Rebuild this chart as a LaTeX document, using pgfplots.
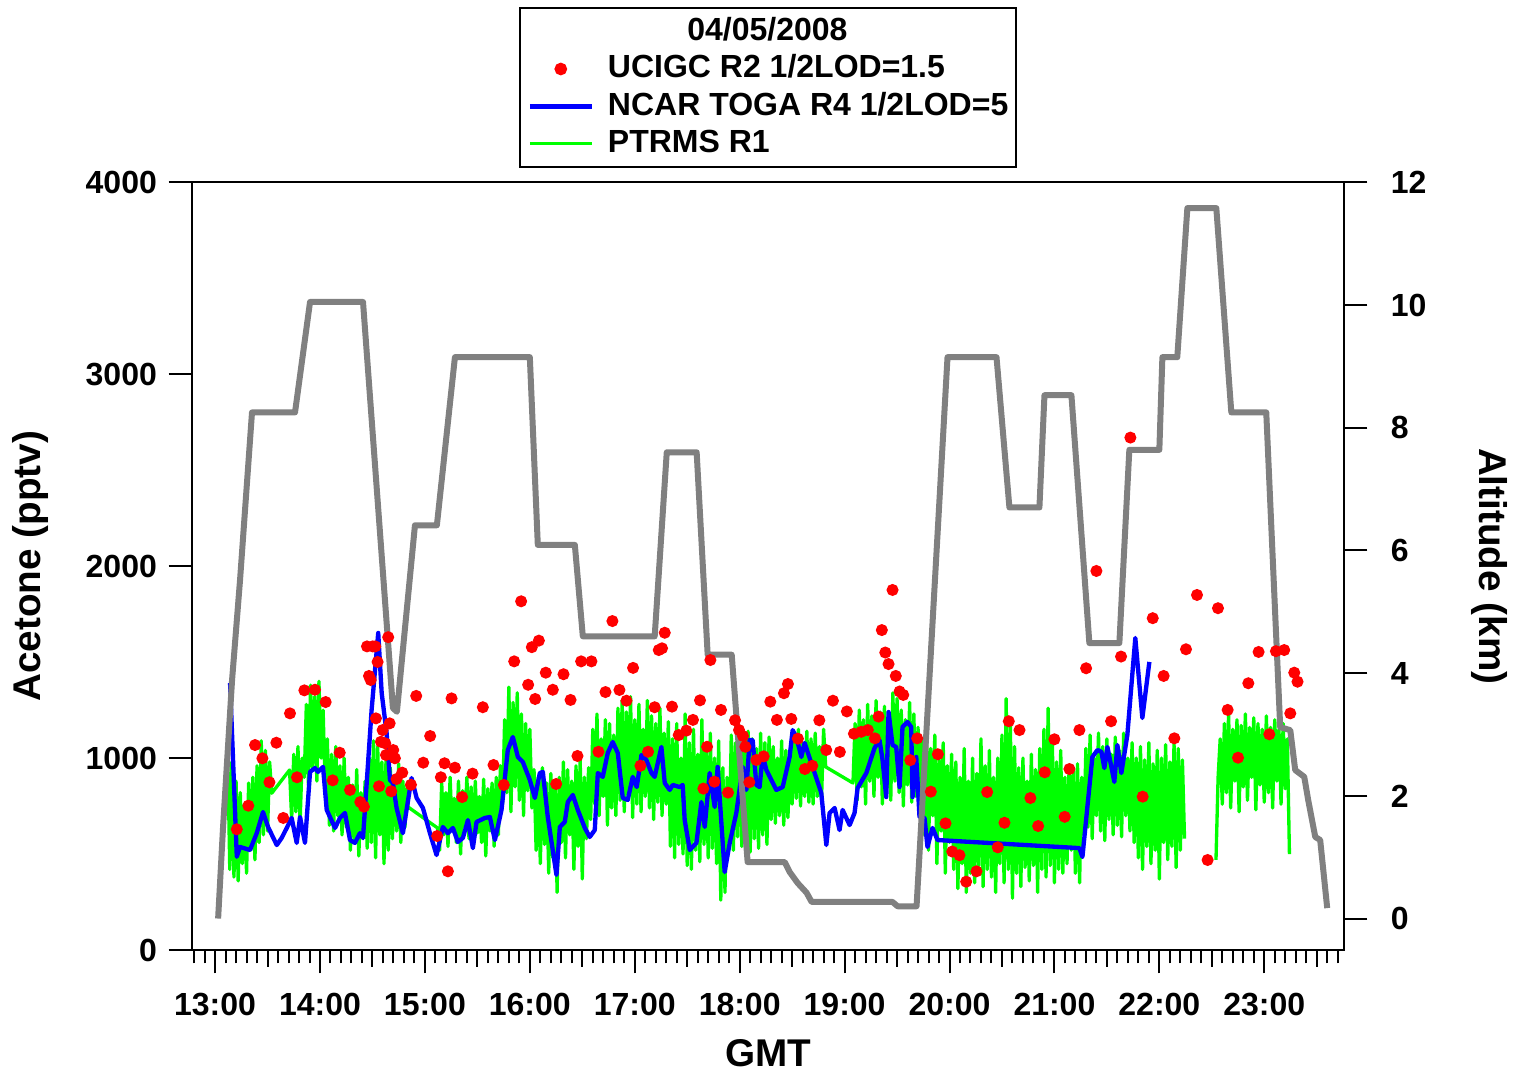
\documentclass[border=0pt]{standalone}
\usepackage{pgfplots}
\pgfplotsset{compat=1.18}
\usepackage{fontspec}
\setmainfont{Liberation Sans}
\definecolor{altgray}{RGB}{128,128,128}
\definecolor{ptrgreen}{RGB}{0,255,0}
\definecolor{togablue}{RGB}{0,0,255}
\definecolor{gcred}{RGB}{255,0,0}
\newcommand{\tf}{\fontsize{9.6}{11}\selectfont\bfseries}
\newcommand{\lf}{\fontsize{11.6}{13}\selectfont\bfseries}
\begin{document}
\begin{tikzpicture}
\useasboundingbox (-57.6pt,-37.2pt) rectangle (398.1pt,285pt);
\pgfplotsset{
  common/.style={width=345.6pt, height=230.3pt, scale only axis,
    xmin=12.78, xmax=23.76, at={(0,0)}, anchor=south west,
    /pgf/number format/assume math mode=true,
    tick label style={font=\tf}, label style={font=\lf},
    tick align=outside, major tick length=7pt, minor tick length=4pt,
    every tick/.style={black, line width=0.6pt},
    axis line style={line width=0.6pt, black}},
}
% ---------- left axis: PTRMS and TOGA ----------
\begin{axis}[common, ymin=0, ymax=4000,
  xtick={13,14,15,16,17,18,19,20,21,22,23},
  xticklabels={13:00,14:00,15:00,16:00,17:00,18:00,19:00,20:00,21:00,22:00,23:00},
  xticklabel style={yshift=-2.4pt},
  minor xtick={12.8,12.9,...,23.75},
  extra x ticks={13.5,14.5,15.5,16.5,17.5,18.5,19.5,20.5,21.5,22.5,23.5},
  extra x tick labels={{},{},{},{},{},{},{},{},{},{},{}},
  extra x tick style={major tick length=5pt},
  ytick={0,1000,2000,3000,4000},
  yticklabels={0,1000,2000,3000,4000},
  xtick pos=bottom, ytick pos=left,
  xlabel={GMT}, ylabel={Acetone (pptv)},
  xlabel style={at={(axis description cs:0.5,-0.134)}, anchor=center},
  ylabel style={at={(axis description cs:-0.1398,0.5)}, anchor=center},
]
\addplot[ptrgreen, line width=1pt, line join=round] coordinates {
(13.10,700)(13.12,1050)(13.14,420)(13.16,980)(13.18,380)(13.20,880)
(13.22,360)(13.24,820)(13.26,450)(13.28,760)(13.30,400)(13.32,870)(13.34,520)(13.36,900)(13.38,470)(13.40,960)
(13.42,560)(13.44,1090)(13.46,600)(13.48,1040)(13.50,620)(13.52,980)(13.54,817)
(13.71,938)
(13.73,680)(13.75,1020)(13.77,720)(13.79,1060)(13.81,660)(13.83,1000)
(13.85,900)(13.87,1280)(13.89,860)(13.91,1380)(13.93,950)(13.95,1320)(13.97,880)(13.99,1400)(14.01,1000)(14.03,1250)(14.05,820)
(14.07,1100)(14.09,650)(14.11,1020)(14.13,620)(14.15,1060)(14.17,700)(14.19,960)(14.21,600)(14.23,1000)(14.25,640)
(14.27,900)(14.29,520)(14.31,860)(14.33,560)(14.35,940)(14.37,490)(14.39,820)(14.41,580)(14.43,880)(14.45,530)
(14.47,1000)(14.49,560)(14.51,1090)(14.53,480)(14.55,1060)(14.57,600)(14.59,980)(14.61,450)(14.63,1020)(14.65,520)
(14.67,950)(14.69,580)(14.71,900)(14.73,620)(14.75,970)(14.77,560)(14.79,880)(14.81,640)(14.83,860)(14.84,745)
(15.12,636)
(15.14,520)(15.16,870)(15.18,600)(15.20,820)(15.22,540)(15.24,900)(15.26,620)(15.28,790)(15.30,560)(15.32,880)(15.34,500)(15.36,830)(15.38,640)(15.40,900)(15.42,580)(15.44,850)(15.46,530)(15.48,880)(15.50,610)(15.52,800)(15.54,560)(15.56,890)(15.58,490)(15.60,840)(15.62,620)(15.64,870)(15.66,540)(15.68,900)(15.70,600)(15.72,960)
(15.74,760)(15.76,1200)(15.78,820)(15.80,1370)(15.82,720)(15.84,1290)(15.86,850)(15.88,1340)(15.90,780)(15.92,1230)(15.94,700)(15.96,1180)(15.98,830)(16.00,1150)(16.02,740)
(16.04,940)(16.06,520)(16.08,900)(16.10,450)(16.12,950)(16.14,550)(16.16,870)(16.18,400)(16.20,920)(16.22,480)(16.24,860)(16.26,300)
(16.28,900)(16.30,560)(16.32,980)(16.34,480)(16.36,940)(16.38,600)(16.40,880)(16.42,420)(16.44,960)(16.46,540)(16.48,990)(16.50,370)(16.52,900)(16.54,580)(16.56,950)
(16.58,680)(16.60,1150)(16.62,760)(16.64,1230)(16.66,700)(16.68,1100)(16.70,800)(16.72,1200)(16.74,650)(16.76,1180)(16.78,740)(16.80,1120)(16.82,700)(16.84,1260)(16.86,780)(16.88,1300)(16.90,720)(16.92,1240)(16.94,800)(16.96,1320)(16.98,690)(17.00,1200)(17.02,760)(17.04,1280)(17.06,720)(17.08,1150)(17.10,800)(17.12,1300)(17.14,740)(17.16,1220)(17.18,680)(17.20,1180)(17.22,770)(17.24,1260)(17.26,700)(17.28,1130)(17.30,760)(17.32,1190)
(17.34,540)(17.36,1100)(17.38,480)(17.40,1180)(17.42,550)(17.44,1000)(17.46,500)(17.48,1230)(17.50,440)(17.52,1080)(17.54,420)(17.56,1150)(17.58,520)(17.60,1020)(17.62,460)(17.64,1200)(17.66,550)(17.68,1060)(17.70,480)(17.72,1130)(17.74,530)(17.76,1000)(17.78,450)(17.80,1090)
(17.82,260)(17.84,950)(17.86,300)(17.88,900)
(17.90,560)(17.92,1120)(17.94,520)(17.96,1080)(17.98,590)(18.00,1150)(18.02,540)(18.04,1060)(18.06,600)(18.08,1140)(18.10,510)(18.12,1100)(18.14,580)(18.16,1050)(18.18,530)(18.20,1130)(18.22,600)(18.24,1080)(18.26,550)(18.28,1110)
(18.30,680)(18.32,1060)(18.34,660)(18.36,1000)(18.38,700)(18.40,1090)(18.42,650)(18.44,1040)(18.46,690)(18.48,1010)
(18.50,760)(18.52,1120)(18.54,790)(18.56,1150)(18.58,750)(18.60,1080)(18.62,800)(18.64,1140)(18.66,770)(18.68,1100)(18.70,760)(18.72,1130)(18.74,800)(18.76,1060)(18.78,780)(18.80,1150)(18.82,954)
(19.08,870)
(19.10,1180)(19.12,780)(19.14,1250)(19.16,850)(19.18,1200)(19.20,760)(19.22,1280)(19.24,880)(19.26,1220)(19.28,800)(19.30,1300)(19.32,900)(19.34,1240)(19.36,760)(19.38,1270)(19.40,840)(19.42,1180)(19.44,780)(19.46,1340)(19.48,880)(19.50,1310)(19.52,820)(19.54,1250)(19.56,750)(19.58,1200)(19.60,860)(19.62,1290)(19.64,770)(19.66,1230)(19.68,800)(19.70,1160)
(19.72,760)(19.74,1100)(19.76,600)(19.78,1160)(19.80,520)(19.82,1050)(19.84,700)(19.86,1120)(19.88,450)(19.90,1000)(19.92,620)(19.94,1080)(19.96,400)(19.98,960)(20.00,560)(20.02,1020)
(20.04,420)(20.06,980)(20.08,320)(20.10,900)(20.12,450)(20.14,1050)(20.16,300)(20.18,880)(20.20,400)(20.22,1000)(20.24,350)(20.26,920)(20.28,440)(20.30,1100)(20.32,330)(20.34,960)(20.36,420)(20.38,1040)(20.40,380)(20.42,900)(20.44,300)(20.46,1000)(20.48,450)(20.50,1120)(20.52,350)(20.54,1310)(20.56,420)(20.58,1180)(20.60,270)(20.62,1060)(20.64,400)(20.66,950)(20.68,330)(20.70,1000)(20.72,430)(20.74,880)(20.76,360)(20.78,1020)(20.80,440)(20.82,940)(20.84,300)(20.86,1050)(20.88,420)(20.90,1150)(20.92,380)(20.94,1260)(20.96,440)(20.98,1100)(21.00,350)(21.02,980)(21.04,420)(21.06,1040)(21.08,400)(21.10,900)(21.12,450)(21.14,960)
(21.16,520)(21.18,940)(21.20,400)(21.22,970)(21.24,350)(21.26,900)
(21.28,600)(21.30,1050)(21.32,640)(21.34,1120)(21.36,580)(21.38,1000)(21.40,700)(21.42,1130)(21.44,620)(21.46,1060)(21.48,570)(21.50,1100)(21.52,680)(21.54,1020)(21.56,600)(21.58,1110)(21.60,650)(21.62,1040)(21.64,590)(21.66,1130)(21.68,700)(21.70,1000)(21.72,620)(21.74,1080)
(21.76,560)(21.78,1000)(21.80,480)(21.82,1060)(21.84,420)(21.86,990)(21.88,540)(21.90,1080)(21.92,450)(21.94,970)(21.96,520)(21.98,1040)(22.00,370)(22.02,1000)(22.04,560)(22.06,1070)(22.08,470)(22.10,980)(22.12,540)(22.14,1080)(22.16,430)(22.18,1050)(22.20,520)(22.22,990)(22.24,580)
};
\addplot[ptrgreen, line width=1pt, line join=round, forget plot] coordinates {
(22.54,470)(22.56,900)(22.58,1100)(22.60,760)(22.62,1180)(22.64,820)(22.66,1230)(22.68,740)(22.70,1150)(22.72,880)(22.74,1200)(22.76,720)(22.78,1170)(22.80,850)(22.82,1230)(22.84,780)(22.86,1160)(22.88,900)(22.90,1210)(22.92,730)(22.94,1180)(22.96,860)(22.98,1150)(23.00,770)(23.02,1220)(23.04,820)(23.06,1160)(23.08,740)(23.10,1200)(23.12,880)(23.14,1150)(23.16,760)(23.18,1180)(23.20,840)(23.22,1100)(23.24,500)
};
\addplot[togablue, line width=1.3pt, line join=round] coordinates {
(13.143,1391)(13.207,486)(13.238,537)(13.333,521)(13.397,609)(13.457,719)(13.505,641)(13.588,547)(13.635,584)(13.683,636)(13.730,688)(13.778,558)(13.810,693)(13.857,558)(13.905,928)(13.952,948)(13.981,928)(14.029,954)(14.064,730)(14.143,636)(14.190,688)(14.238,714)(14.286,573)(14.333,558)(14.381,609)(14.410,584)(14.492,1251)(14.555,1652)(14.588,1339)(14.635,1131)(14.667,886)(14.695,870)(14.730,740)(14.790,609)(14.873,896)(14.921,792)(14.981,740)(15.048,609)(15.111,495)(15.171,641)(15.219,609)(15.267,636)(15.314,563)(15.362,584)(15.410,677)(15.457,531)(15.492,667)(15.571,688)(15.619,693)(15.667,573)(15.730,730)(15.790,1042)(15.838,1110)(15.886,1006)(15.933,980)(16.000,886)(16.048,792)(16.095,922)(16.124,928)(16.171,693)(16.254,391)(16.286,641)(16.333,667)(16.362,771)(16.410,808)(16.457,730)(16.524,636)(16.571,589)(16.619,625)(16.648,922)(16.695,902)(16.743,1027)(16.790,1084)(16.838,1027)(16.886,792)(16.933,782)(16.981,902)(17.019,849)(17.064,1016)(17.111,990)(17.159,922)(17.190,902)(17.254,1058)(17.286,870)(17.333,834)(17.362,860)(17.429,849)(17.457,860)(17.476,677)(17.524,521)(17.588,558)(17.635,771)(17.667,641)(17.714,922)(17.762,745)(17.790,954)(17.857,406)(17.905,558)(17.968,714)(18.029,954)(18.064,834)(18.095,1094)(18.124,1094)(18.159,860)(18.190,849)(18.219,1016)(18.254,938)(18.302,886)(18.349,834)(18.410,849)(18.476,1006)(18.505,1146)(18.540,1110)(18.588,1006)(18.619,1079)(18.695,954)(18.778,818)(18.826,547)(18.857,714)(18.905,740)(18.952,625)(18.981,730)(19.048,651)(19.095,714)(19.124,844)(19.207,922)(19.286,1053)(19.333,1094)(19.362,990)(19.397,797)(19.419,1240)(19.457,1068)(19.492,1058)(19.524,849)(19.552,1162)(19.600,1188)(19.635,1162)(19.648,797)(19.683,1006)(19.714,693)(19.762,688)(19.790,537)(19.838,636)(19.886,573)(21.238,531)(21.267,485)(21.314,745)(21.362,1006)(21.410,1042)(21.448,1032)(21.476,948)(21.505,1058)(21.571,876)(21.600,1068)(21.638,922)(21.695,1120)(21.771,1626)(21.838,1209)(21.905,1501)
};
\end{axis}
% ---------- right axis: altitude ----------
\begin{axis}[common, ymin=-0.513, ymax=12,
  axis x line=none, axis y line*=right,
  ytick={0,2,4,6,8,10,12}, yticklabels={0,2,4,6,8,10,12},
  yticklabel style={xshift=3.5pt},
  ylabel={Altitude (km)},
  ylabel style={at={(axis description cs:1.1267,0.5)}, anchor=center, rotate=180},
]
\addplot[altgray, line width=1.8pt, line join=round] coordinates {
(13.029,0)(13.076,1.49)(13.162,3.89)(13.238,5.52)(13.352,8.25)(13.762,8.25)(13.905,10.05)(14.41,10.05)(14.695,3.43)(14.733,3.37)(14.905,6.41)(15.114,6.41)(15.286,9.15)(16.0,9.15)(16.076,6.09)(16.429,6.09)(16.505,4.6)(17.19,4.6)(17.305,7.6)(17.59,7.6)(17.695,4.3)(17.924,4.3)(18.076,0.92)(18.43,0.92)(18.476,0.76)(18.552,0.58)(18.638,0.42)(18.686,0.27)(19.457,0.27)(19.505,0.2)(19.686,0.2)(19.981,9.15)(20.448,9.15)(20.571,6.7)(20.857,6.7)(20.905,8.53)(21.162,8.53)(21.333,4.49)(21.619,4.49)(21.714,7.64)(22.0,7.64)(22.029,9.15)(22.171,9.15)(22.267,11.58)(22.543,11.58)(22.686,8.25)(23.019,8.25)(23.152,3.12)(23.248,3.07)(23.295,2.42)(23.381,2.31)(23.419,1.93)(23.486,1.33)(23.533,1.28)(23.6,0.17)
};
\end{axis}
% ---------- top layer: UCIGC dots and legend ----------
\begin{axis}[common, ymin=0, ymax=4000, hide axis,
  legend image code/.code={\draw[mark repeat=2,mark phase=2,#1] plot coordinates {(0pt,0pt) (9.3pt,0pt) (18.6pt,0pt)};},
  legend style={at={(axis description cs:0.5,1)}, anchor=south, yshift=4.2pt,
    draw=black, line width=0.6pt, font=\tf, row sep=0pt, column sep=4.2pt,
    inner xsep=2.4pt, inner ysep=1.5pt,
    nodes={inner xsep=0pt, inner ysep=1.2pt, text height=7pt, text depth=1.8pt}},
  legend cell align=left,
]
\addlegendimage{empty legend}
\addlegendentry{\hspace*{23.8pt}04/05/2008}
\addplot[only marks, mark=*, mark size=1.6pt, gcred, mark options={draw=gcred, fill=gcred}] coordinates {
(13.207,629)(13.317,752)(13.381,1068)(13.451,999)(13.518,874)(13.584,1080)(13.650,688)(13.714,1233)(13.781,900)(13.851,1353)(13.952,1356)(14.054,1292)(14.121,884)(14.188,1028)(14.286,834)(14.384,771)(14.419,747)(14.448,1582)(14.502,1582)(14.527,1582)(14.467,1428)(14.483,1407)(14.549,1501)(14.533,1207)(14.562,853)(14.597,1146)(14.581,1085)(14.622,1077)(14.650,1630)(14.664,1181)(14.629,1016)(14.698,1042)(14.714,999)(14.679,827)(14.730,891)(14.784,924)(14.867,861)(14.917,1324)(14.984,976)(15.050,1115)(15.117,594)(15.152,900)(15.187,973)(15.219,410)(15.254,1311)(15.286,950)(15.355,797)(15.454,919)(15.552,1265)(15.654,964)(15.752,860)(15.851,1504)(15.917,1817)(15.984,1382)(16.019,1578)(16.086,1612)(16.051,1308)(16.152,1445)(16.219,1356)(16.251,865)(16.321,1437)(16.388,1303)(16.454,1011)(16.489,1504)(16.587,1504)(16.654,1033)(16.721,1344)(16.787,1714)(16.854,1355)(16.921,1299)(16.984,1470)(17.054,960)(17.127,1033)(17.190,1265)(17.229,1563)(17.260,1572)(17.286,1653)(17.355,1268)(17.419,1120)(17.492,1143)(17.555,1199)(17.622,1301)(17.689,1059)(17.654,841)(17.759,877)(17.721,1511)(17.822,1251)(17.889,820)(17.956,1197)(17.994,1146)(18.032,1115)(18.054,1059)(18.092,874)(18.159,990)(18.229,1009)(18.292,1294)(18.355,1199)(18.422,1338)(18.460,1386)(18.492,1204)(18.555,1101)(18.622,943)(18.692,960)(18.759,1197)(18.825,1042)(18.889,1299)(18.955,1032)(19.022,1243)(19.089,1127)(19.159,1137)(19.222,1146)(19.289,1103)(19.324,1216)(19.355,1667)(19.457,1876)(19.388,1550)(19.419,1490)(19.488,1428)(19.524,1347)(19.559,1329)(19.626,989)(19.692,1103)(19.822,825)(19.889,1020)(19.962,660)(20.026,513)(20.095,494)(20.159,356)(20.257,410)(20.359,823)(20.460,535)(20.524,663)(20.565,1192)(20.667,1146)(20.771,792)(20.845,646)(20.908,926)(21.000,1098)(21.098,694)(21.143,943)(21.238,1146)(21.302,1468)(21.400,1975)(21.540,1192)(21.635,1529)(21.724,2670)(21.841,799)(21.937,1729)(22.041,1428)(22.143,1103)(22.254,1567)(22.359,1850)(22.460,469)(22.559,1781)(22.651,1251)(22.750,1002)(22.848,1390)(22.946,1553)(23.048,1124)(23.111,1557)(23.190,1563)(23.248,1233)(23.286,1445)(23.317,1398)
};
\addlegendentry{UCIGC R2 1/2LOD=1.5}
\addlegendimage{togablue, line width=1.3pt}
\addlegendentry{NCAR TOGA R4 1/2LOD=5}
\addlegendimage{ptrgreen, line width=1pt}
\addlegendentry{PTRMS R1}
\end{axis}
\end{tikzpicture}
\end{document}
